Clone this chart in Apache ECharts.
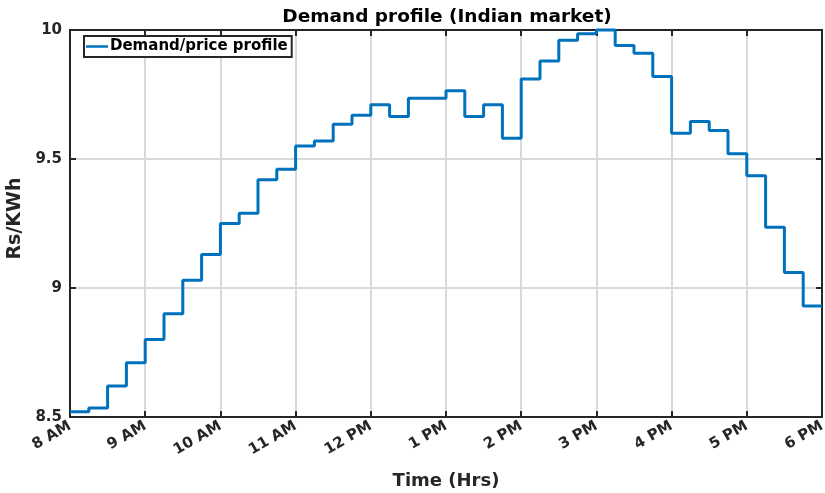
<!DOCTYPE html>
<html>
<head>
<meta charset="utf-8">
<script src="https://cdn.jsdelivr.net/npm/echarts@6/dist/echarts.min.js"></script>
<style>
  html, body { margin: 0; padding: 0; background: #fff; }
  #chart { width: 825px; height: 493px; }
</style>
</head>
<body>
<div id="chart"></div>
<script>
// Hour tick labels along the time axis (8 AM .. 6 PM)
const hourLabels = ['8 AM', '9 AM', '10 AM', '11 AM', '12 PM', '1 PM', '2 PM', '3 PM', '4 PM', '5 PM', '6 PM'];
const startHour = 8;
const slotMinutes = 15;

// Price per 15-minute slot, Rs/KWh
const price = [
  8.52, 8.535, 8.62, 8.71, 8.80, 8.90, 9.03, 9.13,
  9.25, 9.29, 9.42, 9.46, 9.55, 9.57, 9.635, 9.67,
  9.71, 9.665, 9.735, 9.735, 9.765, 9.665, 9.71, 9.58,
  9.81, 9.88, 9.96, 9.985, 10.0, 9.94, 9.91, 9.82,
  9.60, 9.645, 9.61, 9.52, 9.435, 9.235, 9.06, 8.93
];

const yTicks = [8.5, 9, 9.5, 10];

// Each slot holds its price from its start time until the next slot
const points = price.map((v, i) => [startHour + i * slotMinutes / 60, v]);
points.push([startHour + price.length * slotMinutes / 60, price[price.length - 1]]);

const font = 'DejaVu Sans';
const ink = '#262626';
const gridColor = '#d9d9d9';

const chart = echarts.init(document.getElementById('chart'), null, { renderer: 'canvas' });

const baseX = { type: 'value', min: 8, max: 18, interval: 1 };
const baseY = { type: 'value', min: yTicks[0], max: yTicks[yTicks.length - 1], interval: 0.5 };

chart.setOption({
  backgroundColor: '#fff',
  animation: false,
  title: {
    text: 'Demand profile (Indian market)',
    left: 442, top: 3, textAlign: 'center',
    textStyle: { fontFamily: font, fontWeight: 'bold', fontSize: 18.5, color: '#000' }
  },
  legend: {
    left: 84, top: 36,
    orient: 'vertical',
    backgroundColor: '#fff',
    borderColor: ink, borderWidth: 2, borderRadius: 0,
    padding: [3, 4, 3, 2],
    itemWidth: 22, itemHeight: 12, itemGap: 0,
    textStyle: { fontFamily: font, fontWeight: 'bold', fontSize: 15, color: '#000', padding: [0, 0, 0, -3] },
    data: [{ name: 'Demand/price profile', icon: 'path://M0,5 L22,5 L22,7.5 L0,7.5 Z' }]
  },
  grid: {
    left: 70, right: 3, top: 30, bottom: 76,
    outerBoundsMode: 'none',
    containLabel: false,
    show: true, borderColor: ink, borderWidth: 2, backgroundColor: '#fff'
  },
  xAxis: [
    Object.assign({}, baseX, {
      position: 'bottom',
      name: 'Time (Hrs)', nameLocation: 'middle', nameGap: 55,
      nameTextStyle: { fontFamily: font, fontWeight: 'bold', fontSize: 18, color: ink },
      axisLine: { show: true, lineStyle: { color: ink, width: 2 } },
      axisTick: { show: true, inside: true, length: 6, lineStyle: { color: ink, width: 2 } },
      splitLine: { show: true, lineStyle: { color: gridColor, width: 2 } },
      axisLabel: {
        rotate: 30, margin: 8,
        fontFamily: font, fontWeight: 'bold', fontSize: 15, color: ink,
        formatter: v => hourLabels[Math.round(v - startHour)]
      }
    }),
    Object.assign({}, baseX, {
      position: 'top',
      axisLine: { show: true, lineStyle: { color: ink, width: 2 } },
      axisTick: { show: true, inside: true, length: 6, lineStyle: { color: ink, width: 2 } },
      splitLine: { show: false },
      axisLabel: { show: false }
    })
  ],
  yAxis: [
    Object.assign({}, baseY, {
      position: 'left',
      name: 'Rs/KWh', nameLocation: 'middle', nameGap: 44,
      nameTextStyle: { fontFamily: font, fontWeight: 'bold', fontSize: 19, color: ink, padding: [0, 0, 0, 10] },
      axisLine: { show: true, lineStyle: { color: ink, width: 2 } },
      axisTick: { show: true, inside: true, length: 6, lineStyle: { color: ink, width: 2 } },
      splitLine: { show: true, lineStyle: { color: gridColor, width: 2 } },
      axisLabel: {
        margin: 8, fontFamily: font, fontWeight: 'bold', fontSize: 15, color: ink,
        formatter: v => String(v)
      }
    }),
    Object.assign({}, baseY, {
      position: 'right',
      axisLine: { show: true, lineStyle: { color: ink, width: 2 } },
      axisTick: { show: true, inside: true, length: 6, lineStyle: { color: ink, width: 2 } },
      splitLine: { show: false },
      axisLabel: { show: false }
    })
  ],
  series: [{
    name: 'Demand/price profile',
    type: 'line',
    xAxisIndex: 0, yAxisIndex: 0,
    step: 'end',
    symbol: 'none',
    clip: false,
    lineStyle: { color: '#0072BD', width: 3 },
    itemStyle: { color: '#0072BD' },
    data: points
  }]
});
</script>
</body>
</html>
